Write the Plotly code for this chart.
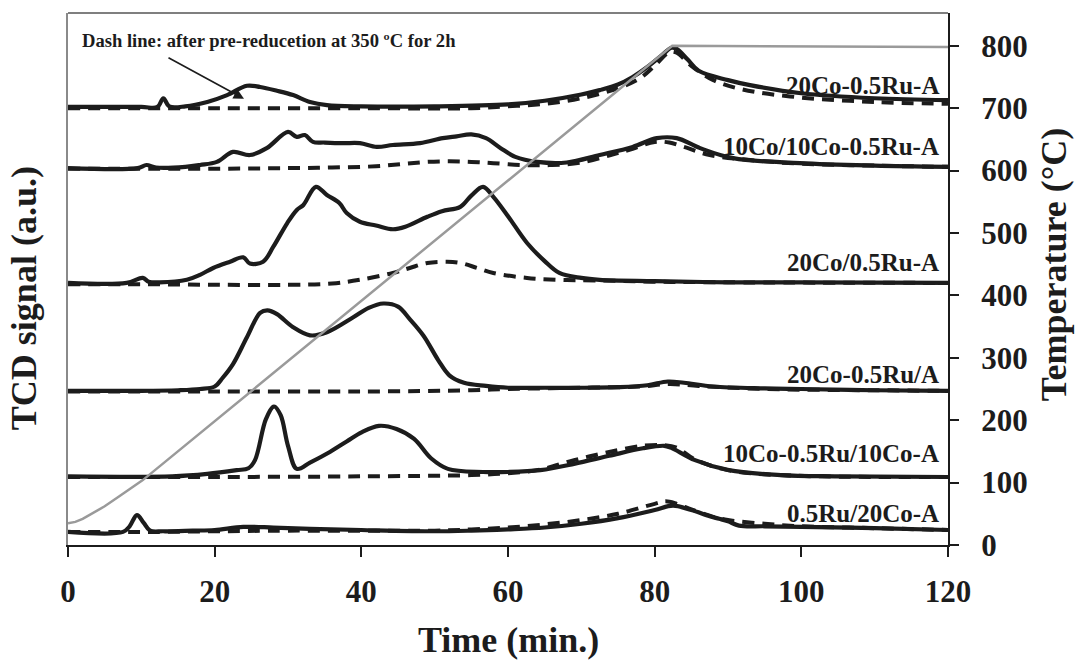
import plotly.graph_objects as go

# ---- TPR profiles: time (min) vs TCD signal (a.u., stacked offsets) ----
# solid = fresh sample, dashed = after pre-reduction at 350 C for 2h

t_20Co_05Ru_A = [0, 10, 12.2, 13, 13.8, 16, 19, 21.7, 24.4, 26.2, 28.5, 30.7, 33, 35.3, 40, 50, 60, 65, 70,
                 72.5, 75, 77, 79, 81, 82.3, 83, 84.5, 86, 90, 93, 100, 110, 120]
s_20Co_05Ru_A = [702, 702, 702, 716, 703, 703, 710, 721, 736, 734, 728, 721, 710, 705, 703, 703, 706, 712, 722,
                 729, 738, 750, 766, 785, 797, 795, 778, 760, 745, 737, 724, 716, 713]
td_20Co_05Ru_A = [0, 20, 40, 55, 60, 65, 70, 75, 78, 80, 82, 83, 85, 88, 92, 100, 110, 120]
d_20Co_05Ru_A = [700, 700, 700, 700, 703, 707, 716, 732, 748, 768, 790, 789, 768, 745, 730, 717, 710, 707]

t_10Co_10Co05Ru_A = [0, 9.5, 10.7, 12, 16, 18, 20.3, 22.5, 24.8, 27.1, 30, 31.2, 32.3, 33.4, 35, 37.5, 39.8,
                     42.1, 44.3, 48, 51.1, 53, 55, 57, 59, 61, 64, 68, 72.5, 77, 80.3, 83, 86.2, 90.7,
                     99.8, 110, 120]
s_10Co_10Co05Ru_A = [604, 604, 609, 605, 606, 609, 614, 630, 625, 636, 662, 654, 657, 646, 645, 644, 644,
                     638, 641, 644, 652, 655, 658, 652, 636, 622, 614, 613, 625, 638, 652, 652, 636, 620,
                     612, 608, 606]
td_10Co_10Co05Ru_A = [0, 20, 30, 36, 42, 46, 49, 52, 55, 58, 62, 66, 70, 74, 77, 80, 82, 84, 87.5, 93, 100,
                      110, 120]
d_10Co_10Co05Ru_A = [603, 603, 604, 605, 607, 611, 614, 615, 614, 612, 609, 609, 613, 625, 635, 646, 645,
                     638, 625, 617, 611, 608, 606]

t_20Co_05Ru_sep_A = [0, 8, 10.2, 11, 12.5, 16.2, 18, 19.8, 22.1, 23.9, 24.8, 26.6, 28, 29.9, 31.2, 32.1, 33.8,
                     35.3, 37, 38, 39.8, 42, 44.3, 46, 49, 51, 53.5, 55, 56.6, 58, 60, 62.6, 65, 67, 70,
                     72.5, 80, 90, 100, 120]
s_20Co_05Ru_sep_A = [420, 420, 428, 422, 421, 425, 433, 444, 454, 461, 451, 454, 478, 516, 537, 545, 574,
                     561, 548, 532, 518, 512, 506, 510, 526, 535, 542, 560, 574, 558, 527, 484, 455, 436,
                     428, 425, 423, 421, 421, 420]
td_20Co_05Ru_sep_A = [0, 10, 20, 30, 36, 39.8, 44.3, 46.6, 49, 51.7, 53.5, 55.8, 58, 62.6, 67, 72, 80, 90, 120]
d_20Co_05Ru_sep_A = [418, 418, 417, 417, 419, 425, 436, 444, 452, 454, 452, 444, 436, 428, 425, 424, 422,
                     421, 420]

t_20Co05Ru_on_A = [0, 10, 15, 18, 20, 21.1, 22.5, 24.4, 26.2, 27.2, 28.5, 30.7, 33, 35.3, 38.9, 41, 43, 45,
                   46.6, 48.5, 50.5, 52, 54, 57, 60, 65, 70, 75, 79, 81.8, 84, 88, 95, 100, 110, 120]
s_20Co05Ru_on_A = [247, 247, 248, 250, 254, 268, 290, 333, 372, 376, 370, 349, 336, 341, 365, 380, 387, 382,
                   362, 335, 296, 272, 260, 255, 252, 252, 252, 253, 256, 262, 260, 254, 251, 250, 248, 247]
td_20Co05Ru_on_A = [0, 20, 40, 55, 60, 70, 78, 82, 86, 95, 110, 120]
d_20Co05Ru_on_A = [246, 246, 246, 248, 250, 252, 254, 258, 255, 250, 248, 247]

t_10Co05Ru_10Co_A = [0, 14.2, 19, 23, 24.6, 25.5, 27, 28.1, 29, 30, 31.2, 33, 35.4, 38, 40.1, 42.4, 44.8,
                     47.2, 49.5, 51.8, 56.6, 60, 64.4, 69, 73.8, 78.4, 81.3, 82.2, 85.5, 90.1, 97.2, 105, 120]
s_10Co05Ru_10Co_A = [110, 110, 114, 120, 123, 136, 202, 222, 208, 159, 122, 132, 147, 166, 181, 191, 186,
                     170, 139, 122, 117, 117, 120, 130, 143, 155, 159, 156, 136, 120, 112, 110, 109]
td_10Co05Ru_10Co_A = [0, 20, 40, 55, 60, 64.4, 69, 73.8, 78.4, 81.3, 83, 85.5, 90, 97, 120]
d_10Co05Ru_10Co_A = [109, 109, 110, 112, 115, 121, 136, 149, 159, 160, 156, 137, 120, 112, 109]

t_05Ru_20Co_A = [0, 7.5, 8.4, 9.4, 10.3, 11.2, 13, 17, 20, 23.9, 28, 33, 40, 50, 55, 60, 65, 70, 75, 80,
                 82.5, 85, 87.5, 88.8, 90, 91.5, 95, 100, 110, 120]
s_05Ru_20Co_A = [21, 21, 30, 48, 36, 23, 22, 23, 24, 29, 28, 26, 24, 22, 23, 25, 28, 34, 43, 56,
                 63, 56, 46, 42, 38, 31, 30, 29, 27, 24]
td_05Ru_20Co_A = [0, 8, 12, 20, 30, 50, 55, 60, 65, 70, 75, 80, 81.5, 83, 85, 88, 90, 95, 100, 110, 120]
d_05Ru_20Co_A = [21, 21, 21, 22, 23, 23, 25, 28, 33, 40, 50, 66, 70, 66, 57, 45, 40, 34, 30, 27, 24]

# furnace temperature program
temp_time = [0, 1, 2, 3.4, 5, 7, 10.2, 82.4, 120]
temp_degC = [35, 37, 42, 51, 62, 78, 104, 800, 798]

sample_labels = ["20Co-0.5Ru-A", "10Co/10Co-0.5Ru-A", "20Co/0.5Ru-A",
                 "20Co-0.5Ru/A", "10Co-0.5Ru/10Co-A", "0.5Ru/20Co-A"]
x_ticks = [0, 20, 40, 60, 80, 100, 120]
temp_ticks = [0, 100, 200, 300, 400, 500, 600, 700, 800]

profiles = [
    (t_20Co_05Ru_A, s_20Co_05Ru_A, td_20Co_05Ru_A, d_20Co_05Ru_A),
    (t_10Co_10Co05Ru_A, s_10Co_10Co05Ru_A, td_10Co_10Co05Ru_A, d_10Co_10Co05Ru_A),
    (t_20Co_05Ru_sep_A, s_20Co_05Ru_sep_A, td_20Co_05Ru_sep_A, d_20Co_05Ru_sep_A),
    (t_20Co05Ru_on_A, s_20Co05Ru_on_A, td_20Co05Ru_on_A, d_20Co05Ru_on_A),
    (t_10Co05Ru_10Co_A, s_10Co05Ru_10Co_A, td_10Co05Ru_10Co_A, d_10Co05Ru_10Co_A),
    (t_05Ru_20Co_A, s_05Ru_20Co_A, td_05Ru_20Co_A, d_05Ru_20Co_A),
]
label_y = [736, 639, 452, 274, 147, 50]

SERIF = "Liberation Serif"
INK = "#1c1c1c"
Y_TOP = 852.6

fig = go.Figure()
for ts, ss, td, dd in profiles:
    fig.add_trace(go.Scatter(x=td, y=dd, mode="lines", line_shape="spline",
                             line=dict(color=INK, width=4, dash="12px,8px"),
                             hoverinfo="skip", showlegend=False))
    fig.add_trace(go.Scatter(x=ts, y=ss, mode="lines", line_shape="spline",
                             line=dict(color=INK, width=4.2),
                             hoverinfo="skip", showlegend=False))

fig.add_trace(go.Scatter(x=temp_time, y=temp_degC, yaxis="y2", mode="lines",
                         line=dict(color="#9a9a9a", width=2.5),
                         hoverinfo="skip", showlegend=False))

for name, ly in zip(sample_labels, label_y):
    fig.add_annotation(x=119, y=ly, text=name, showarrow=False, xanchor="right", yanchor="middle",
                       font=dict(family=SERIF, size=25, color=INK, weight="bold"))

fig.add_annotation(x=1.6, y=808, text="Dash line: after pre-reducetion at 350 ºC for 2h",
                   showarrow=False, xanchor="left", yanchor="middle",
                   font=dict(family=SERIF, size=18.6, color=INK, weight="bold"))
fig.add_annotation(x=24.0, y=715, ax=-77, ay=-42, text="", showarrow=True,
                   arrowhead=2, arrowsize=1.3, arrowwidth=1.6, arrowcolor=INK)

title_font = dict(family=SERIF, size=36, color=INK, weight="bold")
fig.add_annotation(xref="paper", yref="paper", x=-0.05, y=0.464, text="TCD signal (a.u.)",
                   textangle=-90, showarrow=False, xanchor="center", yanchor="middle",
                   font=title_font)
fig.add_annotation(xref="paper", yref="paper", x=1.1205, y=0.526, text="Temperature (°C)",
                   textangle=-90, showarrow=False, xanchor="center", yanchor="middle",
                   font=title_font)
fig.add_annotation(xref="paper", yref="paper", x=0.5, y=-0.178, text="Time (min.)",
                   showarrow=False, xanchor="center", yanchor="middle", font=title_font)

# top frame edge
fig.add_shape(type="line", xref="paper", yref="paper", x0=0, x1=1, y0=1, y1=1,
              line=dict(color="#555555", width=1.5))

tick_font = dict(family=SERIF, size=31, color=INK, weight="bold")
fig.update_layout(
    width=1078, height=662,
    margin=dict(l=68, r=130, t=13, b=117),
    paper_bgcolor="white", plot_bgcolor="white",
    xaxis=dict(range=[0, 120], tickvals=x_ticks, ticks="outside", ticklen=10, tickwidth=1.5,
               tickcolor=INK, showline=True, linecolor=INK, linewidth=2, showgrid=False,
               zeroline=False, tickfont=tick_font, ticklabelstandoff=8),
    yaxis=dict(range=[0, Y_TOP], showticklabels=False, ticks="", showgrid=False, zeroline=False,
               showline=True, linecolor="#8a8a8a", linewidth=2),
    yaxis2=dict(range=[0, Y_TOP], overlaying="y", side="right", tickvals=temp_ticks,
                ticks="outside", ticklen=9, tickwidth=1.5, tickcolor=INK, showline=True,
                linecolor=INK, linewidth=2, showgrid=False, zeroline=False, tickfont=tick_font,
                ticklabelstandoff=16),
)

fig.write_html("out.html")
